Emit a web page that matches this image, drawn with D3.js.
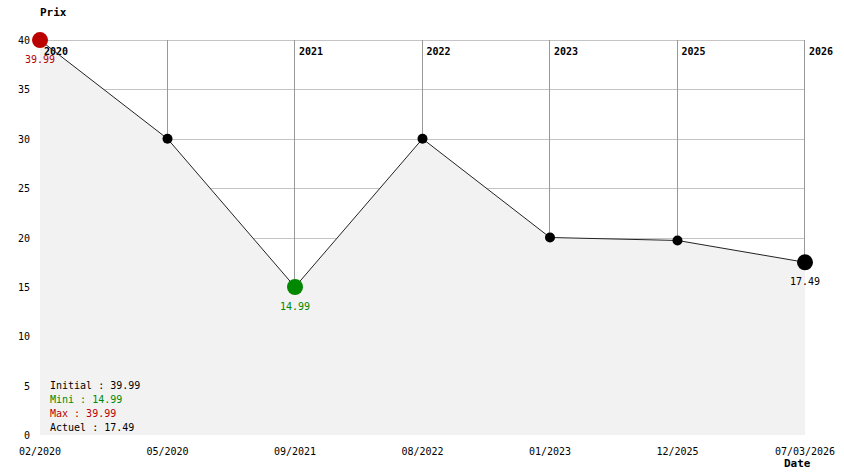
<!doctype html>
<html>
<head>
<meta charset="utf-8">
<script src="https://d3js.org/d3.v7.min.js"></script>
<style>
body { margin: 0; background: #fff; }
text { font-family: "DejaVu Sans Mono", "Liberation Mono", monospace; }
</style>
</head>
<body>
<script>
var dates = ["02/2020", "05/2020", "09/2021", "08/2022", "01/2023", "12/2025", "07/03/2026"];
var years = ["2020", "2020", "2021", "2022", "2023", "2025", "2026"];
var prices = [39.99, 30, 14.99, 30, 20, 19.7, 17.49];
var yTicks = [0, 5, 10, 15, 20, 25, 30, 35, 40];
var legend = [
	{label: "Initial", value: 39.99, color: "#000"},
	{label: "Mini", value: 14.99, color: "#008800"},
	{label: "Max", value: 39.99, color: "#bb0000"},
	{label: "Actuel", value: 17.49, color: "#000"}
];

var width = 844, height = 474;
var plotLeft = 40, plotRight = 805, plotTop = 40, plotBottom = 435;

var svg = d3.select("body").append("svg")
		.attr("width", width)
		.attr("height", height);

var x = d3.scalePoint().domain(d3.range(dates.length)).range([plotLeft, plotRight]);
var y = d3.scaleLinear().domain([0, 40]).range([plotBottom, plotTop]);

var data = prices.map(function(p, i) { return {i: i, price: p, date: dates[i], year: years[i]}; });

// horizontal grid
svg.append("g").selectAll("line")
		.data(yTicks.slice(1))
		.enter().append("line")
		.attr("x1", plotLeft).attr("x2", plotRight)
		.attr("y1", d => Math.round(y(d)) + 0.5).attr("y2", d => Math.round(y(d)) + 0.5)
		.attr("stroke", "#c4c4c4");

// vertical grid
svg.append("g").selectAll("line")
		.data(data.slice(1))
		.enter().append("line")
		.attr("x1", d => Math.round(x(d.i)) - 0.5).attr("x2", d => Math.round(x(d.i)) - 0.5)
		.attr("y1", plotTop).attr("y2", plotBottom)
		.attr("stroke", "#999");

// area
var area = d3.area().x(d => x(d.i)).y0(plotBottom).y1(d => y(d.price));
svg.append("path").datum(data)
		.attr("d", area)
		.attr("fill", "#f2f2f2");

// legend
svg.append("g").selectAll("text")
		.data(legend)
		.enter().append("text")
		.attr("x", 50)
		.attr("y", (d, i) => 389 + i * 14)
		.attr("font-size", "10px")
		.attr("fill", d => d.color)
		.text(d => d.label + " : " + d.value);

// year labels
svg.append("g").selectAll("text")
		.data(data.filter((d, i) => i == 0 || d.year != years[i - 1]))
		.enter().append("text")
		.attr("x", d => x(d.i) + 4)
		.attr("y", 55)
		.attr("font-size", "10px")
		.attr("font-weight", "bold")
		.text(d => d.year);

// line
var line = d3.line().x(d => x(d.i)).y(d => y(d.price));
svg.append("path").datum(data)
		.attr("d", line)
		.attr("fill", "none")
		.attr("stroke", "#222")
		.attr("stroke-width", 1);

var maxV = d3.max(prices), minV = d3.min(prices), last = prices.length - 1;
function dotColor(d) {
	if (d.price == maxV) return "#bb0000";
	if (d.price == minV) return "#008800";
	return "#000";
}
function big(d) { return d.price == maxV || d.price == minV || d.i == last; }

svg.append("g").selectAll("circle")
		.data(data)
		.enter().append("circle")
		.attr("cx", d => x(d.i))
		.attr("cy", d => y(d.price))
		.attr("r", d => big(d) ? 8 : 5)
		.attr("fill", dotColor);

// value labels under special points
svg.append("g").selectAll("text")
		.data(data.filter(big))
		.enter().append("text")
		.attr("x", d => x(d.i))
		.attr("y", d => y(d.price) + 23)
		.attr("text-anchor", "middle")
		.attr("font-size", "10px")
		.attr("fill", dotColor)
		.text(d => d.price);

// y axis labels
svg.append("g").selectAll("text")
		.data(yTicks)
		.enter().append("text")
		.attr("x", 30)
		.attr("y", d => y(d) + 4)
		.attr("text-anchor", "end")
		.attr("font-size", "10px")
		.text(d => d);

// x axis labels
svg.append("g").selectAll("text")
		.data(data)
		.enter().append("text")
		.attr("x", d => x(d.i))
		.attr("y", 455)
		.attr("text-anchor", "middle")
		.attr("font-size", "10px")
		.text(d => d.date);

svg.append("text")
		.attr("x", 40).attr("y", 16)
		.attr("font-size", "11px").attr("font-weight", "bold")
		.text("Prix");

svg.append("text")
		.attr("x", 784).attr("y", 467)
		.attr("font-size", "11px").attr("font-weight", "bold")
		.text("Date");
</script>
</body>
</html>
